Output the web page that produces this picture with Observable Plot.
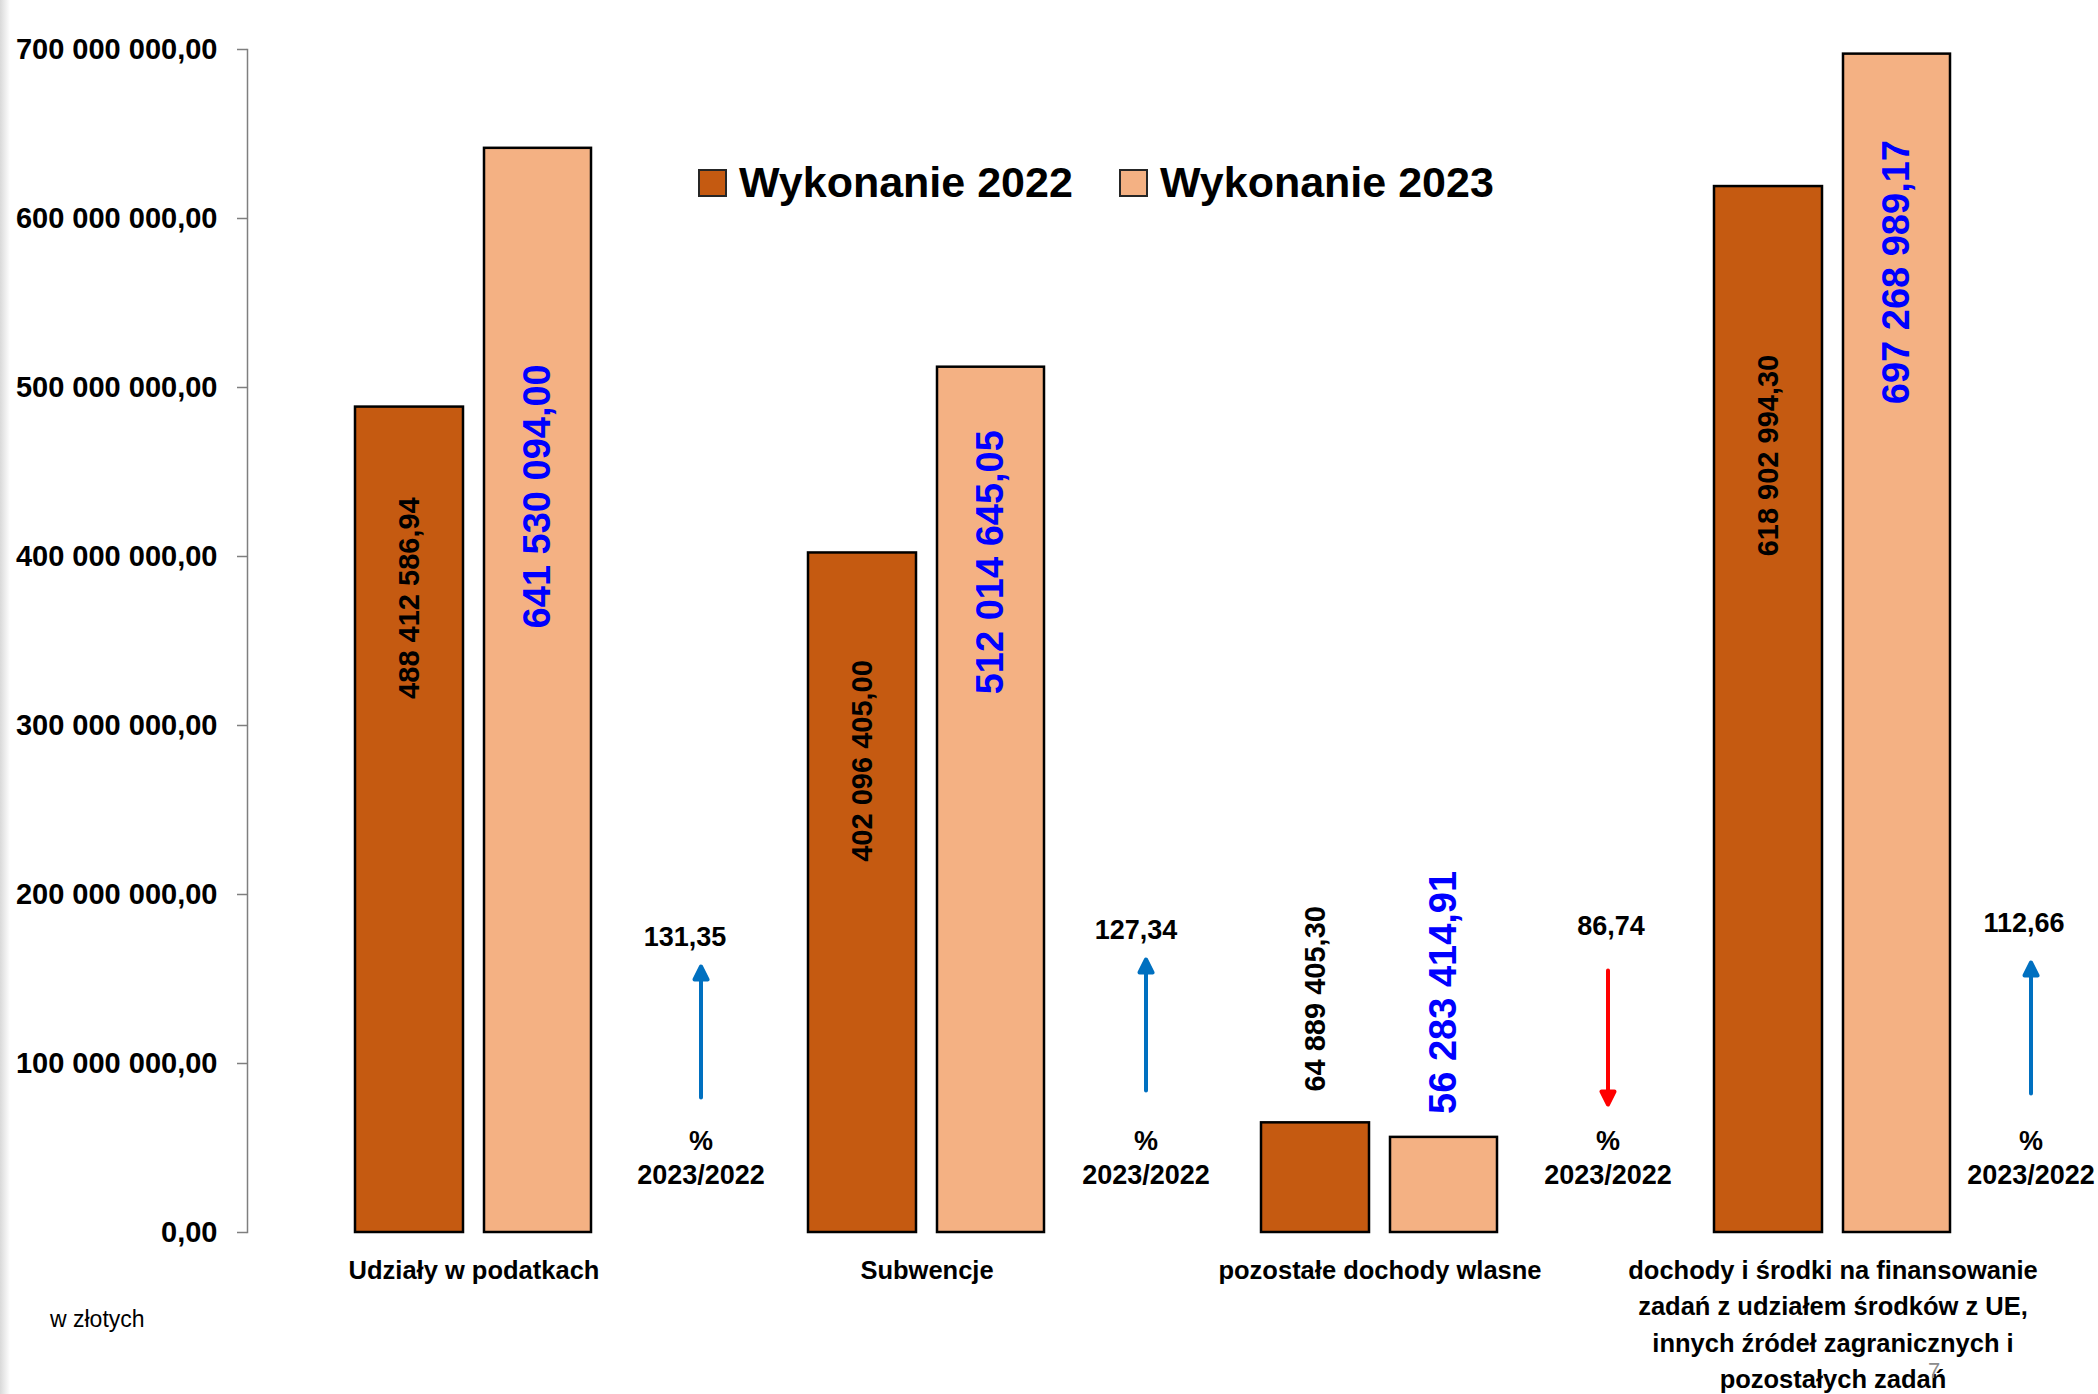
<!DOCTYPE html>
<html>
<head>
<meta charset="utf-8">
<script src="https://cdn.jsdelivr.net/npm/d3@7"></script>
<script src="https://cdn.jsdelivr.net/npm/@observablehq/plot@0.6"></script>
<style>
  html, body { margin: 0; padding: 0; background: #fff; }
  #wrap { position: relative; width: 2098px; height: 1394px; overflow: hidden; font-family: "Liberation Sans", Arial, sans-serif; }
  #chart { position: absolute; left: 0; top: 0; }
  .shade { position: absolute; left: 0; top: 0; width: 10px; height: 1394px; background: linear-gradient(to right, #d9d9d9, #ffffff); }
  .legend-item { position: absolute; display: flex; align-items: center; }
  .swatch { width: 29px; height: 28px; box-sizing: border-box; border: 2px solid #262626; margin-right: 12px; }
  .legend-text { font-size: 43px; font-weight: bold; line-height: 1; color: #000; white-space: nowrap; }
  .unit { position: absolute; left: 50px; top: 1308px; font-size: 23px; line-height: 1; color: #000; }
  .pageno { position: absolute; left: 1928px; top: 1360px; font-size: 22px; line-height: 1; color: #8c8c8c; }
</style>
</head>
<body>
<div id="wrap">
  <div class="shade"></div>
  <div id="chart"></div>
</div>
<script>
// ---------- data ----------
const categories = [
  "Udziały w podatkach",
  "Subwencje",
  "pozostałe dochody wlasne",
  "dochody i środki na finansowanie zadań z udziałem środków z UE, innych źródeł zagranicznych i pozostałych zadań"
];
const categoryLabels = [
  "Udziały w podatkach",
  "Subwencje",
  "pozostałe dochody wlasne",
  "dochody i środki na finansowanie\nzadań z udziałem środków z UE,\ninnych źródeł zagranicznych i\npozostałych zadań"
];
const seriesNames = ["Wykonanie 2022", "Wykonanie 2023"];
const values2022 = [488412586.94, 402096405.00, 64889405.30, 618902994.30];
const values2023 = [641530094.00, 512014645.05, 56283414.91, 697268989.17];
const ratios = [131.35, 127.34, 86.74, 112.66];
const ratioCaption = "%\n2023/2022";
const yTicks = [0, 100e6, 200e6, 300e6, 400e6, 500e6, 600e6, 700e6];
const unitLabel = "w złotych";

// ---------- styles / layout ----------
const seriesColors = ["#C55A11", "#F4B183"];
const W = 2098, H = 1394;
const margin = {top: 49, right: 39, bottom: 162, left: 247};
// per-label vertical shifts (pixels from bar top)
const labelDy2022 = [191, 208, -124, 269];
const labelDy2023 = [348, 195, -145, 218];
// per-category horizontal shifts of the ratio annotations (pixels from band centre)
const arrowDx = [227, 219, 228, 198];
const ratioDx = [211, 209, 231, 191];
const ratioDy = [-287, -294, -298, -301];
const arrowTailDy = [-135, -142, -262, -139];

const locale = d3.formatLocale({decimal: ",", thousands: " ", grouping: [3], currency: ["", ""]});
const fmt = locale.format(",.2f");

const rows = categories.flatMap((c, i) => [
  {cat: c, series: seriesNames[0], value: values2022[i], i},
  {cat: c, series: seriesNames[1], value: values2023[i], i}
]);
const rows22 = rows.filter(d => d.series === seriesNames[0]);
const rows23 = rows.filter(d => d.series === seriesNames[1]);
const catRows = categories.map((c, i) => ({cat: c, label: categoryLabels[i], ratio: ratios[i], i}));

const arrowShape = {
  draw(ctx, l) {
    const h = 13, w = 6.5;
    ctx.moveTo(0, 0);
    ctx.lineTo(0, -l + h);
    ctx.moveTo(-w, -l + h);
    ctx.lineTo(0, -l);
    ctx.lineTo(w, -l + h);
    ctx.closePath();
  }
};

const marks = [
  Plot.frame({anchor: "left", stroke: "#7f7f7f", strokeWidth: 1.5}),
  Plot.axisY({
    ticks: yTicks, tickSize: 10, tickPadding: 20, tickFormat: fmt, label: null,
    stroke: "#7f7f7f", strokeWidth: 1.5, fill: "#000",
    fontSize: 29, fontWeight: "bold"
  }),
  Plot.barY(rows22, {x: "cat", y: "value", fill: "series", stroke: "#000", strokeWidth: 2.5, insetLeft: 108, insetRight: 237}),
  Plot.barY(rows23, {x: "cat", y: "value", fill: "series", stroke: "#000", strokeWidth: 2.5, insetLeft: 237, insetRight: 109}),
  Plot.text(catRows, {
    x: "cat", text: "label", frameAnchor: "bottom", lineAnchor: "top", dy: 21, lineHeight: 1.42,
    fontSize: 25.5, fontWeight: "bold", fill: "#000"
  })
];

rows22.forEach((d, i) => {
  marks.push(Plot.text([d], {
    x: "cat", y: "value", text: r => fmt(r.value), rotate: -90, dx: -64.5, dy: labelDy2022[i],
    fill: "#000", fontWeight: "bold", fontSize: 29
  }));
});
rows23.forEach((d, i) => {
  marks.push(Plot.text([d], {
    x: "cat", y: "value", text: r => fmt(r.value), rotate: -90, dx: 64, dy: labelDy2023[i],
    fill: "#0000FF", fontWeight: "bold", fontSize: 38
  }));
});

catRows.forEach((d, i) => {
  const up = d.ratio >= 100;
  const col = up ? "#0070C0" : "#FF0000";
  marks.push(
    Plot.text([d], {
      x: "cat", text: r => fmt(r.ratio), frameAnchor: "bottom", dx: ratioDx[i], dy: ratioDy[i],
      fontSize: 27, fontWeight: "bold", fill: "#000"
    }),
    Plot.vector([d], {
      x: "cat", frameAnchor: "bottom", dx: arrowDx[i], dy: arrowTailDy[i],
      length: up ? 131 : 134, rotate: up ? 0 : 180, anchor: "start", shape: arrowShape,
      stroke: col, fill: col, strokeWidth: 4
    }),
    Plot.text([d], {
      x: "cat", text: () => ratioCaption, frameAnchor: "bottom", dx: arrowDx[i], dy: -76,
      lineAnchor: "middle", lineHeight: 1.26, fontSize: 27, fontWeight: "bold", fill: "#000"
    })
  );
});

const chart = Plot.plot({
  width: W, height: H,
  marginTop: margin.top, marginRight: margin.right, marginBottom: margin.bottom, marginLeft: margin.left,
  style: {fontFamily: "'Liberation Sans', Arial, sans-serif", background: "transparent", overflow: "visible"},
  x: {domain: categories, padding: 0, axis: null},
  y: {domain: [0, 700e6], axis: null},
  color: {domain: seriesNames, range: seriesColors},
  marks
});
document.getElementById("chart").appendChild(chart);

// legend (HTML, over the plot area)
const wrap = document.getElementById("wrap");
const legendLefts = [698, 1119];
seriesNames.forEach((s, i) => {
  const item = document.createElement("div");
  item.className = "legend-item";
  item.style.left = legendLefts[i] + "px";
  item.style.top = "161px";
  item.style.height = "43px";
  const sw = document.createElement("div");
  sw.className = "swatch";
  sw.style.background = seriesColors[i];
  const tx = document.createElement("span");
  tx.className = "legend-text";
  tx.textContent = s;
  item.appendChild(sw); item.appendChild(tx);
  wrap.appendChild(item);
});
const unit = document.createElement("div");
unit.className = "unit"; unit.textContent = unitLabel;
wrap.appendChild(unit);
const pg = document.createElement("div");
pg.className = "pageno"; pg.textContent = "7";
wrap.appendChild(pg);
</script>
</body>
</html>
